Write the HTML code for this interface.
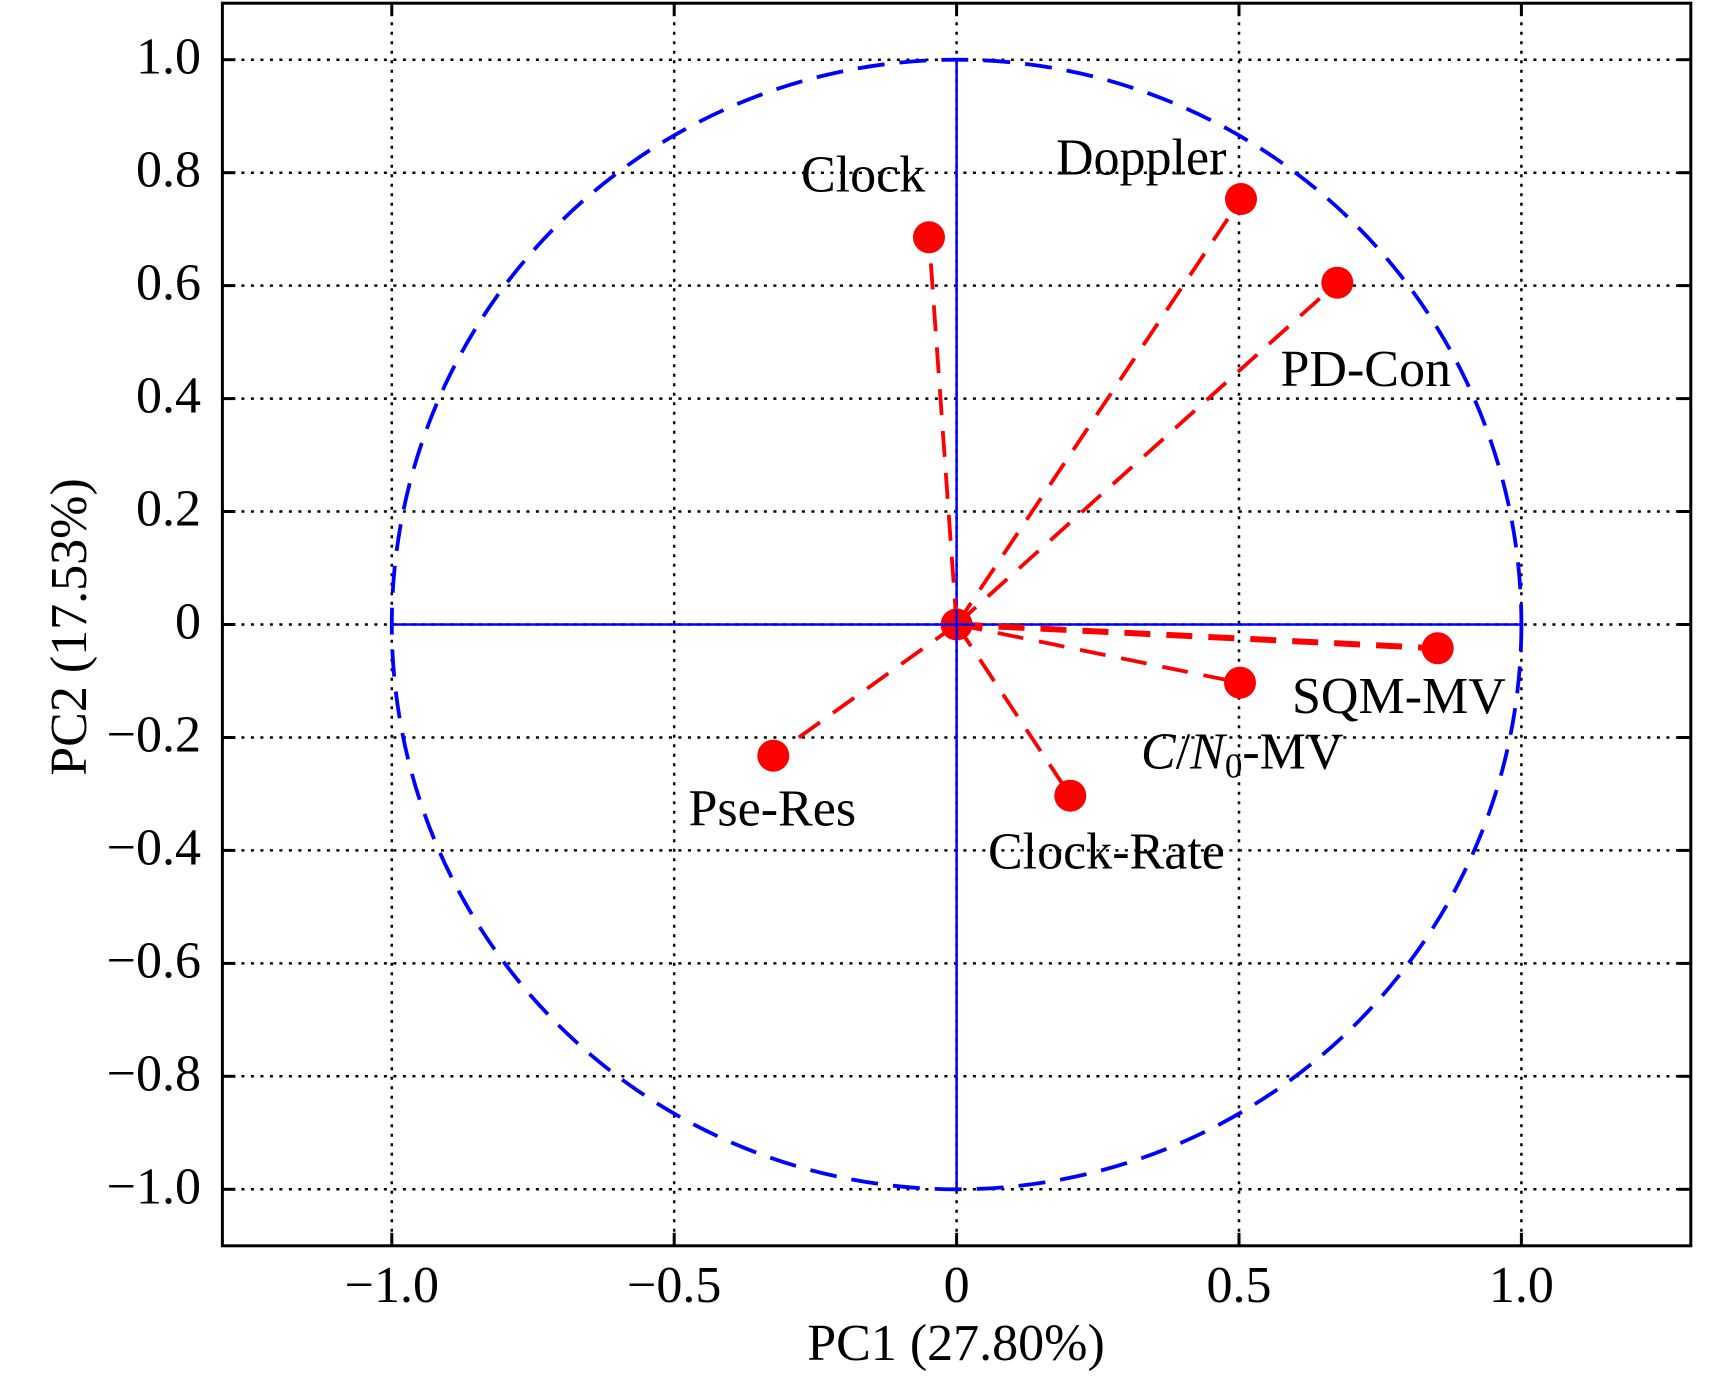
<!DOCTYPE html>
<html>
<head>
<meta charset="utf-8">
<style>
  html, body { margin: 0; padding: 0; background: #ffffff; }
  svg { display: block; }
  text { font-family: "Liberation Serif", "Times New Roman", serif; fill: #000; }
</style>
</head>
<body>
<svg width="1732" height="1376" viewBox="0 0 1732 1376" xmlns="http://www.w3.org/2000/svg">
  <rect x="0" y="0" width="1732" height="1376" fill="#ffffff"/>

  <!-- grid (dotted) -->
  <g stroke="#000" stroke-width="2.5" stroke-dasharray="3 6.5" fill="none">
    <line x1="391.8" y1="3.2" x2="391.8" y2="1245.8"/>
    <line x1="674.2" y1="3.2" x2="674.2" y2="1245.8"/>
    <line x1="956.6" y1="3.2" x2="956.6" y2="1245.8"/>
    <line x1="1239" y1="3.2" x2="1239" y2="1245.8"/>
    <line x1="1521.4" y1="3.2" x2="1521.4" y2="1245.8"/>

    <line x1="222.4" y1="59.7" x2="1690.8" y2="59.7"/>
    <line x1="222.4" y1="172.7" x2="1690.8" y2="172.7"/>
    <line x1="222.4" y1="285.6" x2="1690.8" y2="285.6"/>
    <line x1="222.4" y1="398.6" x2="1690.8" y2="398.6"/>
    <line x1="222.4" y1="511.5" x2="1690.8" y2="511.5"/>
    <line x1="222.4" y1="624.5" x2="1690.8" y2="624.5"/>
    <line x1="222.4" y1="737.5" x2="1690.8" y2="737.5"/>
    <line x1="222.4" y1="850.4" x2="1690.8" y2="850.4"/>
    <line x1="222.4" y1="963.4" x2="1690.8" y2="963.4"/>
    <line x1="222.4" y1="1076.3" x2="1690.8" y2="1076.3"/>
    <line x1="222.4" y1="1189.3" x2="1690.8" y2="1189.3"/>
  </g>

  <!-- blue axes lines -->
  <g stroke="#0000ff" stroke-width="2.5" fill="none">
    <line x1="391.8" y1="624.5" x2="1521.4" y2="624.5"/>
    <line x1="956.6" y1="59.7" x2="956.6" y2="1189.3"/>
  </g>

  <!-- unit circle -->
  <circle cx="956.6" cy="624.5" r="564.8" fill="none" stroke="#0000ff" stroke-width="3.8" stroke-dasharray="27 15"/>

  <!-- loading vectors -->
  <g stroke="#ff0000" stroke-width="3.8" stroke-dasharray="26 16" fill="none">
    <line x1="956.6" y1="624.5" x2="929" y2="237.3"/>
    <line x1="956.6" y1="624.5" x2="1241" y2="199"/>
    <line x1="956.6" y1="624.5" x2="1337.3" y2="282.7"/>
    <line x1="956.6" y1="624.5" x2="1437.7" y2="648.3" stroke-width="6"/>
    <line x1="956.6" y1="624.5" x2="1240" y2="682.7"/>
    <line x1="956.6" y1="624.5" x2="1070.3" y2="795.7"/>
    <line x1="956.6" y1="624.5" x2="773.3" y2="755.7"/>
  </g>

  <!-- markers -->
  <g fill="#ff0000">
    <circle cx="956.6" cy="624.5" r="16"/>
    <circle cx="929" cy="237.3" r="16"/>
    <circle cx="1241" cy="199" r="16"/>
    <circle cx="1337.3" cy="282.7" r="16"/>
    <circle cx="1437.7" cy="648.3" r="16"/>
    <circle cx="1240" cy="682.7" r="16"/>
    <circle cx="1070.3" cy="795.7" r="16"/>
    <circle cx="773.3" cy="755.7" r="16"/>
  </g>
  <line x1="956.6" y1="610" x2="956.6" y2="640" stroke="#0000ff" stroke-width="2.5"/>
  <line x1="940" y1="624.5" x2="975" y2="624.5" stroke="#0000ff" stroke-width="2.5"/>

  <!-- axes box -->
  <rect x="222.4" y="3.2" width="1468.4" height="1242.6" fill="none" stroke="#000" stroke-width="3"/>

  <!-- ticks -->
  <g stroke="#000" stroke-width="3">
    <line x1="391.8" y1="1245.8" x2="391.8" y2="1232.8"/>
    <line x1="674.2" y1="1245.8" x2="674.2" y2="1232.8"/>
    <line x1="956.6" y1="1245.8" x2="956.6" y2="1232.8"/>
    <line x1="1239" y1="1245.8" x2="1239" y2="1232.8"/>
    <line x1="1521.4" y1="1245.8" x2="1521.4" y2="1232.8"/>
    <line x1="391.8" y1="3.2" x2="391.8" y2="16.2"/>
    <line x1="674.2" y1="3.2" x2="674.2" y2="16.2"/>
    <line x1="956.6" y1="3.2" x2="956.6" y2="16.2"/>
    <line x1="1239" y1="3.2" x2="1239" y2="16.2"/>
    <line x1="1521.4" y1="3.2" x2="1521.4" y2="16.2"/>
    <line x1="222.4" y1="59.7" x2="235.4" y2="59.7"/>
    <line x1="222.4" y1="172.7" x2="235.4" y2="172.7"/>
    <line x1="222.4" y1="285.6" x2="235.4" y2="285.6"/>
    <line x1="222.4" y1="398.6" x2="235.4" y2="398.6"/>
    <line x1="222.4" y1="511.5" x2="235.4" y2="511.5"/>
    <line x1="222.4" y1="624.5" x2="235.4" y2="624.5"/>
    <line x1="222.4" y1="737.5" x2="235.4" y2="737.5"/>
    <line x1="222.4" y1="850.4" x2="235.4" y2="850.4"/>
    <line x1="222.4" y1="963.4" x2="235.4" y2="963.4"/>
    <line x1="222.4" y1="1076.3" x2="235.4" y2="1076.3"/>
    <line x1="222.4" y1="1189.3" x2="235.4" y2="1189.3"/>
    <line x1="1690.8" y1="59.7" x2="1677.8" y2="59.7"/>
    <line x1="1690.8" y1="172.7" x2="1677.8" y2="172.7"/>
    <line x1="1690.8" y1="285.6" x2="1677.8" y2="285.6"/>
    <line x1="1690.8" y1="398.6" x2="1677.8" y2="398.6"/>
    <line x1="1690.8" y1="511.5" x2="1677.8" y2="511.5"/>
    <line x1="1690.8" y1="624.5" x2="1677.8" y2="624.5"/>
    <line x1="1690.8" y1="737.5" x2="1677.8" y2="737.5"/>
    <line x1="1690.8" y1="850.4" x2="1677.8" y2="850.4"/>
    <line x1="1690.8" y1="963.4" x2="1677.8" y2="963.4"/>
    <line x1="1690.8" y1="1076.3" x2="1677.8" y2="1076.3"/>
    <line x1="1690.8" y1="1189.3" x2="1677.8" y2="1189.3"/>
  </g>

  <!-- y tick labels -->
  <g font-size="52" text-anchor="end">
    <text x="201" y="73.7">1.0</text>
    <text x="201" y="186.7">0.8</text>
    <text x="201" y="299.6">0.6</text>
    <text x="201" y="412.6">0.4</text>
    <text x="201" y="525.5">0.2</text>
    <text x="201" y="638.5">0</text>
    <text x="201" y="751.5">−0.2</text>
    <text x="201" y="864.4">−0.4</text>
    <text x="201" y="977.4">−0.6</text>
    <text x="201" y="1090.3">−0.8</text>
    <text x="201" y="1203.3">−1.0</text>
  </g>

  <!-- x tick labels -->
  <g font-size="52" text-anchor="middle">
    <text x="391.8" y="1302">−1.0</text>
    <text x="674.2" y="1302">−0.5</text>
    <text x="956.6" y="1302">0</text>
    <text x="1239" y="1302">0.5</text>
    <text x="1521.4" y="1302">1.0</text>
  </g>

  <!-- axis labels -->
  <text x="956" y="1360" font-size="52" text-anchor="middle">PC1 (27.80%)</text>
  <text transform="translate(86,627) rotate(-90)" font-size="52" text-anchor="middle">PC2 (17.53%)</text>

  <!-- point labels -->
  <g font-size="52">
    <text x="801" y="191.7">Clock</text>
    <text x="1056" y="174.5">Doppler</text>
    <text x="1280.5" y="386">PD-Con</text>
    <text x="1292" y="713">SQM-MV</text>
    <text x="1141" y="768.5"><tspan font-style="italic">C</tspan>/<tspan font-style="italic">N</tspan><tspan font-size="35" dy="9">0</tspan><tspan dy="-9">-MV</tspan></text>
    <text x="688.5" y="825.5">Pse-Res</text>
    <text x="988" y="868.5">Clock-Rate</text>
  </g>
</svg>
</body>
</html>
